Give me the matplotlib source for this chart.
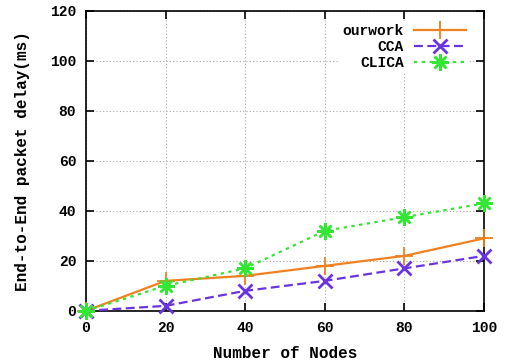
import matplotlib
matplotlib.use("Agg")
import matplotlib.pyplot as plt

nodes = [0, 20, 40, 60, 80, 100]
ourwork = [0, 12, 14, 18, 22, 29]
cca = [0, 2, 8, 12, 17, 22]
clica = [0, 10, 17, 32, 37.5, 43]
xticks = [0, 20, 40, 60, 80, 100]
yticks = [0, 20, 40, 60, 80, 100, 120]

plt.rcParams['font.family'] = ['Liberation Mono', 'DejaVu Sans Mono']
plt.rcParams['font.weight'] = 'bold'

fig = plt.figure(figsize=(5.08, 3.64), dpi=100)
ax = fig.add_axes([0.169, 0.146, 0.784, 0.824])

ax.plot(nodes, ourwork, color='#f08020', lw=1.6, ls='-', marker='+', ms=13, mew=1.3,
        label='ourwork', clip_on=False, zorder=3)
ax.plot(nodes, cca, color='#6a33e0', lw=1.6, ls=(0, (4, 2)), marker='x', ms=10, mew=2,
        label='CCA', clip_on=False, zorder=3)
ax.plot(nodes, clica, color='#33e633', lw=1.6, ls=(0, (1.5, 2)), marker=(8, 2, 0), ms=12, mew=1.8,
        label='CLICA', clip_on=False, zorder=3)

ax.set_xlim(0, 100)
ax.set_ylim(0, 120)
ax.set_xticks(xticks)
ax.set_yticks(yticks)
ax.tick_params(direction='in', length=6, width=1.2, top=True, right=True, labelsize=10.5, pad=7)
for lab in ax.get_xticklabels() + ax.get_yticklabels():
    lab.set_fontweight('bold')
ax.grid(True, color='#aaaaaa', ls=(0, (1, 2)), lw=0.8)
for s in ax.spines.values():
    s.set_linewidth(1.2)

ax.set_xlabel('Number of Nodes', fontsize=11.5, fontweight='bold', labelpad=8)
ax.set_ylabel('End-to-End packet delay(ms)', fontsize=11.5, fontweight='bold', labelpad=14)

leg = ax.legend(loc='upper right', frameon=True, markerfirst=False, fontsize=10.5,
                handlelength=3.6, borderaxespad=0.6, labelspacing=0.15, handletextpad=0.7,
                borderpad=0.2, bbox_to_anchor=(0.985, 0.995))
leg.get_frame().set_facecolor('white')
leg.get_frame().set_edgecolor('none')
leg.get_frame().set_alpha(1)
for t in leg.get_texts():
    t.set_fontweight('bold')

fig.savefig('out.png', dpi=100)
